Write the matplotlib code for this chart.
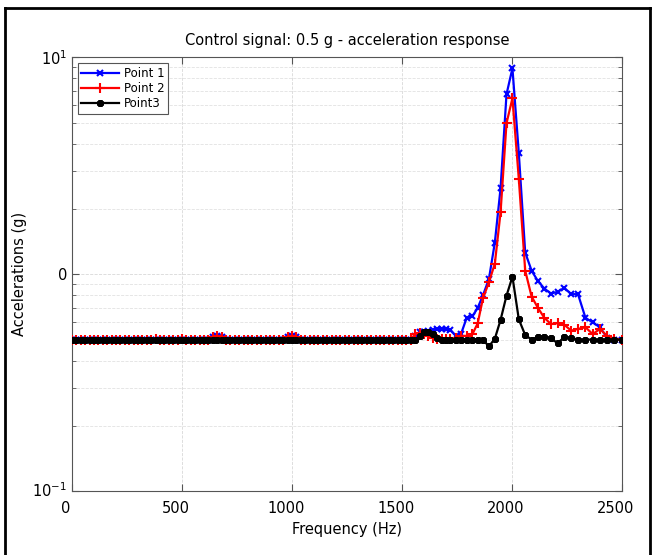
import matplotlib
matplotlib.use('Agg')
import matplotlib.pyplot as plt
import matplotlib.transforms as mtransforms
from matplotlib.lines import Line2D
from matplotlib.ticker import LogLocator, NullFormatter

# Frekans noktalari (Hz)
freq = [
    0, 20, 40, 60, 80, 100, 120, 140, 160, 180,
    200, 220, 240, 260, 280, 300, 320, 340, 360, 380,
    400, 420, 440, 460, 480, 500, 520, 540, 560, 580,
    600, 620, 640, 660, 680, 700, 720, 740, 760, 780,
    800, 820, 840, 860, 880, 900, 920, 940, 960, 980,
    1000, 1020, 1040, 1060, 1080, 1100, 1120, 1140, 1160, 1180,
    1200, 1220, 1240, 1260, 1280, 1300, 1320, 1340, 1360, 1380,
    1400, 1420, 1440, 1460, 1480, 1500, 1520, 1540, 1560, 1580,
    1600, 1620, 1640, 1660, 1680, 1700, 1720, 1745, 1768, 1794,
    1820, 1844, 1868, 1895, 1922, 1948, 1975, 2002, 2031, 2060,
    2089, 2118, 2147, 2177, 2207, 2238, 2269, 2300, 2334, 2367,
    2400, 2432, 2465, 2500]

point1 = [
    0.50, 0.50, 0.50, 0.50, 0.50, 0.50, 0.50, 0.50, 0.50, 0.50,
    0.50, 0.50, 0.50, 0.50, 0.50, 0.50, 0.50, 0.50, 0.50, 0.50,
    0.50, 0.50, 0.50, 0.50, 0.50, 0.50, 0.50, 0.50, 0.50, 0.50,
    0.50, 0.50, 0.515, 0.52, 0.515, 0.50, 0.50, 0.50, 0.50, 0.50,
    0.50, 0.50, 0.50, 0.50, 0.50, 0.50, 0.50, 0.50, 0.50, 0.515,
    0.52, 0.515, 0.50, 0.50, 0.50, 0.50, 0.50, 0.50, 0.50, 0.50,
    0.50, 0.50, 0.50, 0.50, 0.50, 0.50, 0.50, 0.50, 0.50, 0.50,
    0.50, 0.50, 0.50, 0.50, 0.50, 0.50, 0.50, 0.50, 0.52, 0.54,
    0.545, 0.55, 0.555, 0.56, 0.56, 0.56, 0.555, 0.52, 0.53, 0.63,
    0.64, 0.70, 0.80, 0.95, 1.40, 2.49, 6.75, 8.9, 3.61, 1.26,
    1.04, 0.93, 0.86, 0.815, 0.83, 0.866, 0.81, 0.81, 0.63, 0.60,
    0.57, 0.51, 0.50, 0.50]

point2 = [
    0.50, 0.50, 0.50, 0.50, 0.50, 0.50, 0.50, 0.50, 0.50, 0.50,
    0.50, 0.50, 0.50, 0.50, 0.50, 0.50, 0.50, 0.50, 0.50, 0.505,
    0.50, 0.50, 0.50, 0.50, 0.50, 0.505, 0.50, 0.50, 0.50, 0.50,
    0.50, 0.50, 0.515, 0.52, 0.515, 0.50, 0.50, 0.50, 0.50, 0.50,
    0.50, 0.50, 0.50, 0.50, 0.50, 0.50, 0.50, 0.50, 0.50, 0.515,
    0.52, 0.515, 0.50, 0.50, 0.50, 0.50, 0.50, 0.50, 0.50, 0.50,
    0.50, 0.50, 0.50, 0.50, 0.50, 0.50, 0.50, 0.50, 0.50, 0.50,
    0.50, 0.50, 0.50, 0.50, 0.50, 0.50, 0.50, 0.50, 0.53, 0.535,
    0.53, 0.52, 0.51, 0.505, 0.505, 0.505, 0.505, 0.51, 0.52, 0.52,
    0.53, 0.594, 0.775, 0.918, 1.12, 1.93, 4.97, 6.47, 2.75, 1.04,
    0.79, 0.70, 0.63, 0.59, 0.595, 0.585, 0.55, 0.56, 0.57, 0.53,
    0.56, 0.52, 0.505, 0.50]

point3 = [
    0.50, 0.50, 0.50, 0.50, 0.50, 0.50, 0.50, 0.50, 0.50, 0.50,
    0.50, 0.50, 0.50, 0.50, 0.50, 0.50, 0.50, 0.50, 0.50, 0.50,
    0.50, 0.50, 0.50, 0.50, 0.50, 0.50, 0.50, 0.50, 0.50, 0.50,
    0.50, 0.50, 0.50, 0.50, 0.50, 0.50, 0.50, 0.50, 0.50, 0.50,
    0.50, 0.50, 0.50, 0.50, 0.50, 0.50, 0.50, 0.50, 0.50, 0.50,
    0.50, 0.50, 0.50, 0.50, 0.50, 0.50, 0.50, 0.50, 0.50, 0.50,
    0.50, 0.50, 0.50, 0.50, 0.50, 0.50, 0.50, 0.50, 0.50, 0.50,
    0.50, 0.50, 0.50, 0.50, 0.50, 0.50, 0.50, 0.50, 0.50, 0.52,
    0.54, 0.545, 0.53, 0.51, 0.50, 0.50, 0.50, 0.50, 0.50, 0.50,
    0.50, 0.50, 0.50, 0.465, 0.505, 0.616, 0.797, 0.975, 0.62, 0.525,
    0.50, 0.515, 0.515, 0.51, 0.48, 0.515, 0.51, 0.50, 0.50, 0.50,
    0.50, 0.50, 0.50, 0.50]

xticks = [0, 500, 1000, 1500, 2000, 2500]
yticks = [0.1, 1, 10]
ytick_labels = [r'$10^{-1}$', '0', r'$10^{1}$']


def ciz():
    fig = plt.figure(figsize=(6.54, 5.55), dpi=100)
    ax = fig.add_axes([72 / 654, 1 - 491.3 / 555, 550 / 654, 434 / 555])

    ax.plot(freq, point1, color='#0000ff', linewidth=1.6, marker='x',
            markersize=5, markeredgewidth=1.5, label='Point 1', zorder=3)
    ax.plot(freq, point2, color='#ff0000', linewidth=1.6, marker='+',
            markersize=7, markeredgewidth=1.5, label='Point 2', zorder=4)
    ax.plot(freq, point3, color='black', linewidth=1.6, marker=(8, 2, 0),
            markersize=5, markeredgewidth=1.7, label='Point3', zorder=5)

    ax.set_yscale('log')
    ax.set_xlim(0, 2500)
    ax.set_ylim(0.1, 10)
    ax.set_xticks(xticks)
    ax.set_yticks(yticks)
    ax.set_yticklabels(ytick_labels)
    ax.yaxis.set_minor_locator(LogLocator(base=10, subs=range(2, 10)))
    ax.yaxis.set_minor_formatter(NullFormatter())

    ax.tick_params(which='both', direction='in', top=True, right=True,
                   color='#555555', labelsize=10.5)
    ax.tick_params(which='major', length=5)
    ax.tick_params(which='minor', length=3)
    ax.tick_params(axis='x', pad=7)

    # MATLAB benzeri etiket kaymasi
    kaydir = mtransforms.ScaledTranslation(-6 / 100, 0, fig.dpi_scale_trans)
    for lab in ax.get_xticklabels():
        lab.set_transform(lab.get_transform() + kaydir)
    yukari = mtransforms.ScaledTranslation(0, 2 / 100, fig.dpi_scale_trans)
    alt_etiket = ax.get_yticklabels()[0]
    alt_etiket.set_transform(alt_etiket.get_transform() + yukari)

    ax.grid(True, which='major', linestyle='--', color='#d8d8d8', linewidth=0.6)
    ax.grid(True, which='minor', axis='y', linestyle='--', color='#e2e2e2', linewidth=0.6)
    ax.set_axisbelow(True)
    for s in ax.spines.values():
        s.set_color('#555555')
        s.set_linewidth(0.8)

    ax.set_title('Control signal: 0.5 g - acceleration response', fontsize=10.5, pad=9)
    ax.set_xlabel('Frequency (Hz)', fontsize=10.5, labelpad=4)
    ax.set_ylabel('Accelerations (g)', fontsize=10.5, labelpad=4)

    leg = ax.legend(loc='upper left', fontsize=8.5, fancybox=False,
                    borderpad=0.3, labelspacing=0.2, handlelength=3.2,
                    handletextpad=0.4, borderaxespad=0.5, framealpha=1)
    leg.get_frame().set_edgecolor('#555555')
    leg.get_frame().set_linewidth(0.8)

    # Ekran goruntusu cercevesi
    fig.add_artist(Line2D([5 / 654, 5 / 654], [0, 1 - 8 / 555], color='black',
                          linewidth=2, transform=fig.transFigure))
    fig.add_artist(Line2D([5 / 654, 650 / 654], [1 - 8 / 555, 1 - 8 / 555], color='black',
                          linewidth=2, transform=fig.transFigure))
    fig.add_artist(Line2D([650 / 654, 650 / 654], [0, 1 - 8 / 555], color='black',
                          linewidth=2, transform=fig.transFigure))

    fig.savefig('out.png', dpi=100)


if __name__ == '__main__':
    ciz()
